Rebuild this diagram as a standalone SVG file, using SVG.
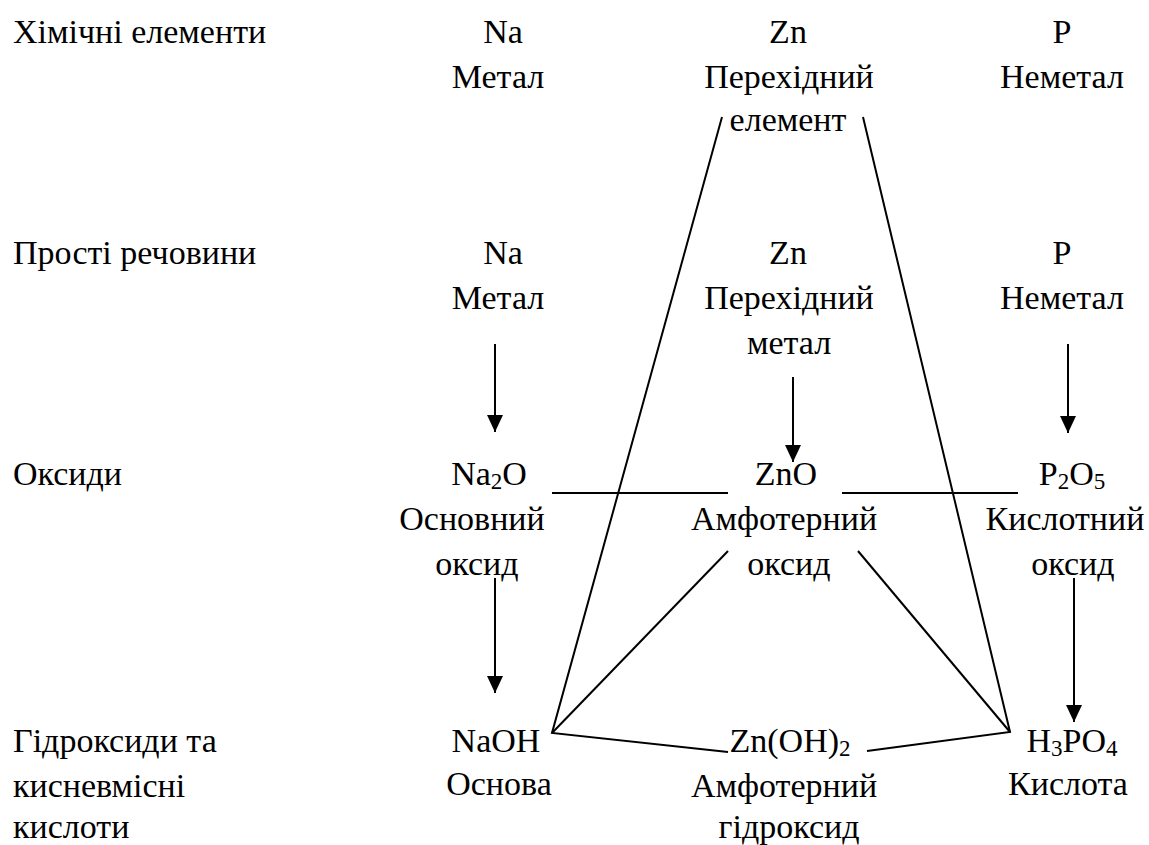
<svg xmlns="http://www.w3.org/2000/svg" width="1149" height="845" viewBox="0 0 1149 845">
<style>
text{font-family:"Liberation Serif","Times New Roman",serif;font-size:34px;fill:#000}
.c{text-anchor:middle}
.s{font-size:23px}
.ln{stroke:#000;stroke-width:2;fill:none}
</style>
<defs>
<marker id="ah" markerWidth="17" markerHeight="16" refX="17" refY="8" orient="auto" markerUnits="userSpaceOnUse" viewBox="0 0 17 16">
<path d="M0,0 L17,8 L0,16 Z" fill="#000"/>
</marker>
</defs>
<rect width="1149" height="845" fill="#fff"/>
<g id="labels">
<text x="13" y="43">Хімічні елементи</text>
<text x="13" y="264">Прості речовини</text>
<text x="13" y="485">Оксиди</text>
<text x="13" y="752">Гідроксиди та</text>
<text x="13" y="797">кисневмісні</text>
<text x="13" y="838">кислоти</text>
</g>
<g id="na-element"><text class="c" x="503" y="43">Na</text><text class="c" x="498" y="88">Метал</text></g>
<g id="zn-element"><text class="c" x="788" y="43">Zn</text><text class="c" x="789" y="88">Перехідний</text><text class="c" x="788" y="131">елемент</text></g>
<g id="p-element"><text class="c" x="1062" y="43">P</text><text class="c" x="1062" y="88">Неметал</text></g>
<g id="na-simple"><text class="c" x="503" y="264">Na</text><text class="c" x="498" y="309">Метал</text></g>
<g id="zn-simple"><text class="c" x="788" y="264">Zn</text><text class="c" x="789" y="309">Перехідний</text><text class="c" x="789" y="354">метал</text></g>
<g id="p-simple"><text class="c" x="1062" y="264">P</text><text class="c" x="1062" y="309">Неметал</text></g>
<g id="na2o"><text class="c" x="489" y="485">Na<tspan class="s" dy="4">2</tspan><tspan dy="-4">O</tspan></text><text class="c" x="472" y="530">Основний</text><text class="c" x="477" y="575">оксид</text></g>
<g id="zno"><text class="c" x="786" y="485">ZnO</text><text class="c" x="784" y="530">Амфотерний</text><text class="c" x="789" y="575">оксид</text></g>
<g id="p2o5"><text class="c" x="1072" y="485">P<tspan class="s" dy="4">2</tspan><tspan dy="-4">O</tspan><tspan class="s" dy="4">5</tspan></text><text class="c" x="1065" y="530">Кислотний</text><text class="c" x="1073" y="575">оксид</text></g>
<g id="naoh"><text class="c" x="496" y="752">NaOH</text><text class="c" x="499" y="795">Основа</text></g>
<g id="znoh2"><text class="c" x="790" y="752">Zn(OH)<tspan class="s" dy="4">2</tspan></text><text class="c" x="784" y="797">Амфотерний</text><text class="c" x="789" y="838">гідроксид</text></g>
<g id="h3po4"><text class="c" x="1072" y="752">H<tspan class="s" dy="4">3</tspan><tspan dy="-4">PO</tspan><tspan class="s" dy="4">4</tspan></text><text class="c" x="1068" y="795">Кислота</text></g>
<g id="connectors">
<line class="ln" x1="495" y1="344" x2="495" y2="432" marker-end="url(#ah)"/>
<line class="ln" x1="793" y1="377" x2="793" y2="462" marker-end="url(#ah)"/>
<line class="ln" x1="1068" y1="344" x2="1068" y2="433" marker-end="url(#ah)"/>
<line class="ln" x1="495" y1="578" x2="495" y2="693" marker-end="url(#ah)"/>
<line class="ln" x1="1074" y1="578" x2="1074" y2="722" marker-end="url(#ah)"/>
<line class="ln" x1="552" y1="493" x2="728" y2="493"/>
<line class="ln" x1="842" y1="493" x2="1018" y2="493"/>
<polyline class="ln" points="722,117 552,733 728,752"/>
<line class="ln" x1="728" y1="551" x2="552" y2="733"/>
<polyline class="ln" points="863,117 1010,732 867,751"/>
<line class="ln" x1="858" y1="551" x2="1010" y2="732"/>
</g>
</svg>
